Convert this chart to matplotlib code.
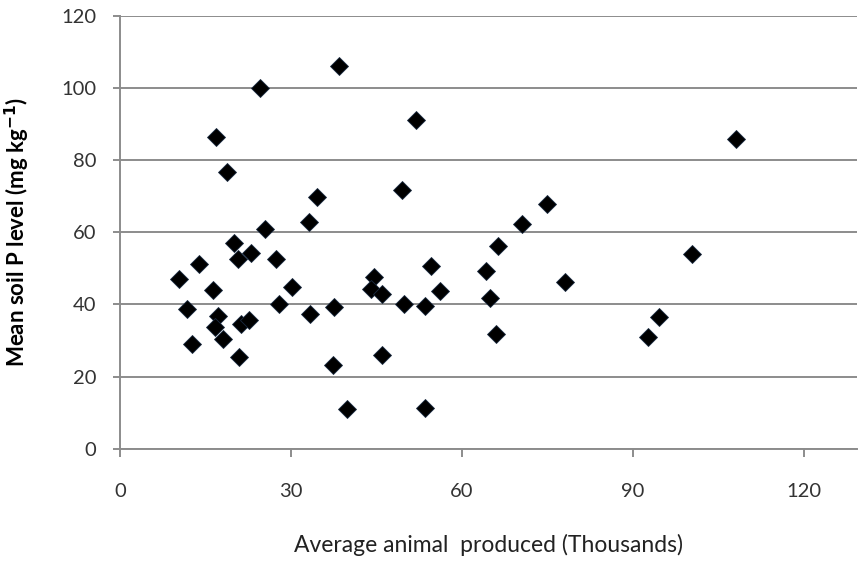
"""
Scatter of mean soil P level against average animals produced.
"""

import matplotlib.pyplot as plt

# average animals produced (thousands)
animals = [
    38.4, 24.6, 16.8, 51.9, 18.8, 34.6, 49.4, 33.2, 25.5, 20.0,
    22.9, 20.7, 27.3, 13.9, 10.3, 16.4, 30.1, 44.6, 44.0, 46.0,
    54.5, 56.2, 11.8, 27.9, 33.3, 37.5, 49.8, 53.6, 17.2, 16.7,
    21.2, 22.6, 18.1, 12.7, 20.8, 45.9, 37.4, 39.8, 53.5, 108.1,
    75.0, 70.6, 66.4, 64.2, 78.0, 65.0, 66.0, 100.4, 94.6, 92.7,
]

# mean soil P (mg/kg)
soil_p = [
    106.2, 100.0, 86.4, 91.2, 76.6, 69.8, 71.6, 62.8, 60.9, 57.1,
    54.3, 52.5, 52.5, 51.1, 47.0, 43.9, 44.9, 47.6, 44.2, 43.0,
    50.6, 43.7, 38.7, 40.0, 37.2, 39.2, 40.1, 39.5, 36.8, 33.8,
    34.5, 35.8, 30.3, 28.9, 25.3, 26.1, 23.2, 10.9, 11.4, 85.9,
    67.9, 62.2, 56.1, 49.2, 46.1, 41.7, 31.8, 54.0, 36.6, 31.0,
]

x_ticks = [0, 30, 60, 90, 120]
y_ticks = [0, 20, 40, 60, 80, 100, 120]

plt.rcParams["font.family"] = ["Lato", "DejaVu Sans"]
plt.rcParams["mathtext.default"] = "bf"

fig = plt.figure(figsize=(8.6, 5.65), dpi=100)
ax = fig.add_axes([0.1395, 0.2058, 0.857, 0.7664])

grey = "#8c8c8c"

# horizontal gridlines like Excel
ax.yaxis.grid(True, color=grey, linewidth=1.4)
ax.set_axisbelow(True)

ax.plot(animals, soil_p, linestyle="none", marker="D", markersize=9,
        markerfacecolor="black", markeredgecolor="#1a2a40",
        markeredgewidth=0.6, clip_on=False)

ax.set_xlim(0, 129.3)
ax.set_ylim(0, 120)
ax.set_xticks(x_ticks)
ax.set_yticks(y_ticks)

for side in ["top", "right"]:
    ax.spines[side].set_visible(False)
for side in ["left", "bottom"]:
    ax.spines[side].set_color(grey)
    ax.spines[side].set_linewidth(1.4)

ax.tick_params(axis="x", direction="out", length=6, width=1.4, color=grey,
               pad=19, labelsize=14.5, labelcolor="#333333")
ax.tick_params(axis="y", direction="out", length=5, width=1.4, color=grey,
               pad=12, labelsize=14.5, labelcolor="#333333")

ax.set_xlabel("Average animal  produced (Thousands)", fontsize=16.5,
              color="#222222")
ax.xaxis.set_label_coords(0.5, -0.196)
ax.set_ylabel("Mean soil P level (mg kg$^{-1}$)", fontsize=16,
              fontweight="bold", color="black")
ax.yaxis.set_label_coords(-0.12, 0.5)

fig.savefig("out.png", dpi=100)
